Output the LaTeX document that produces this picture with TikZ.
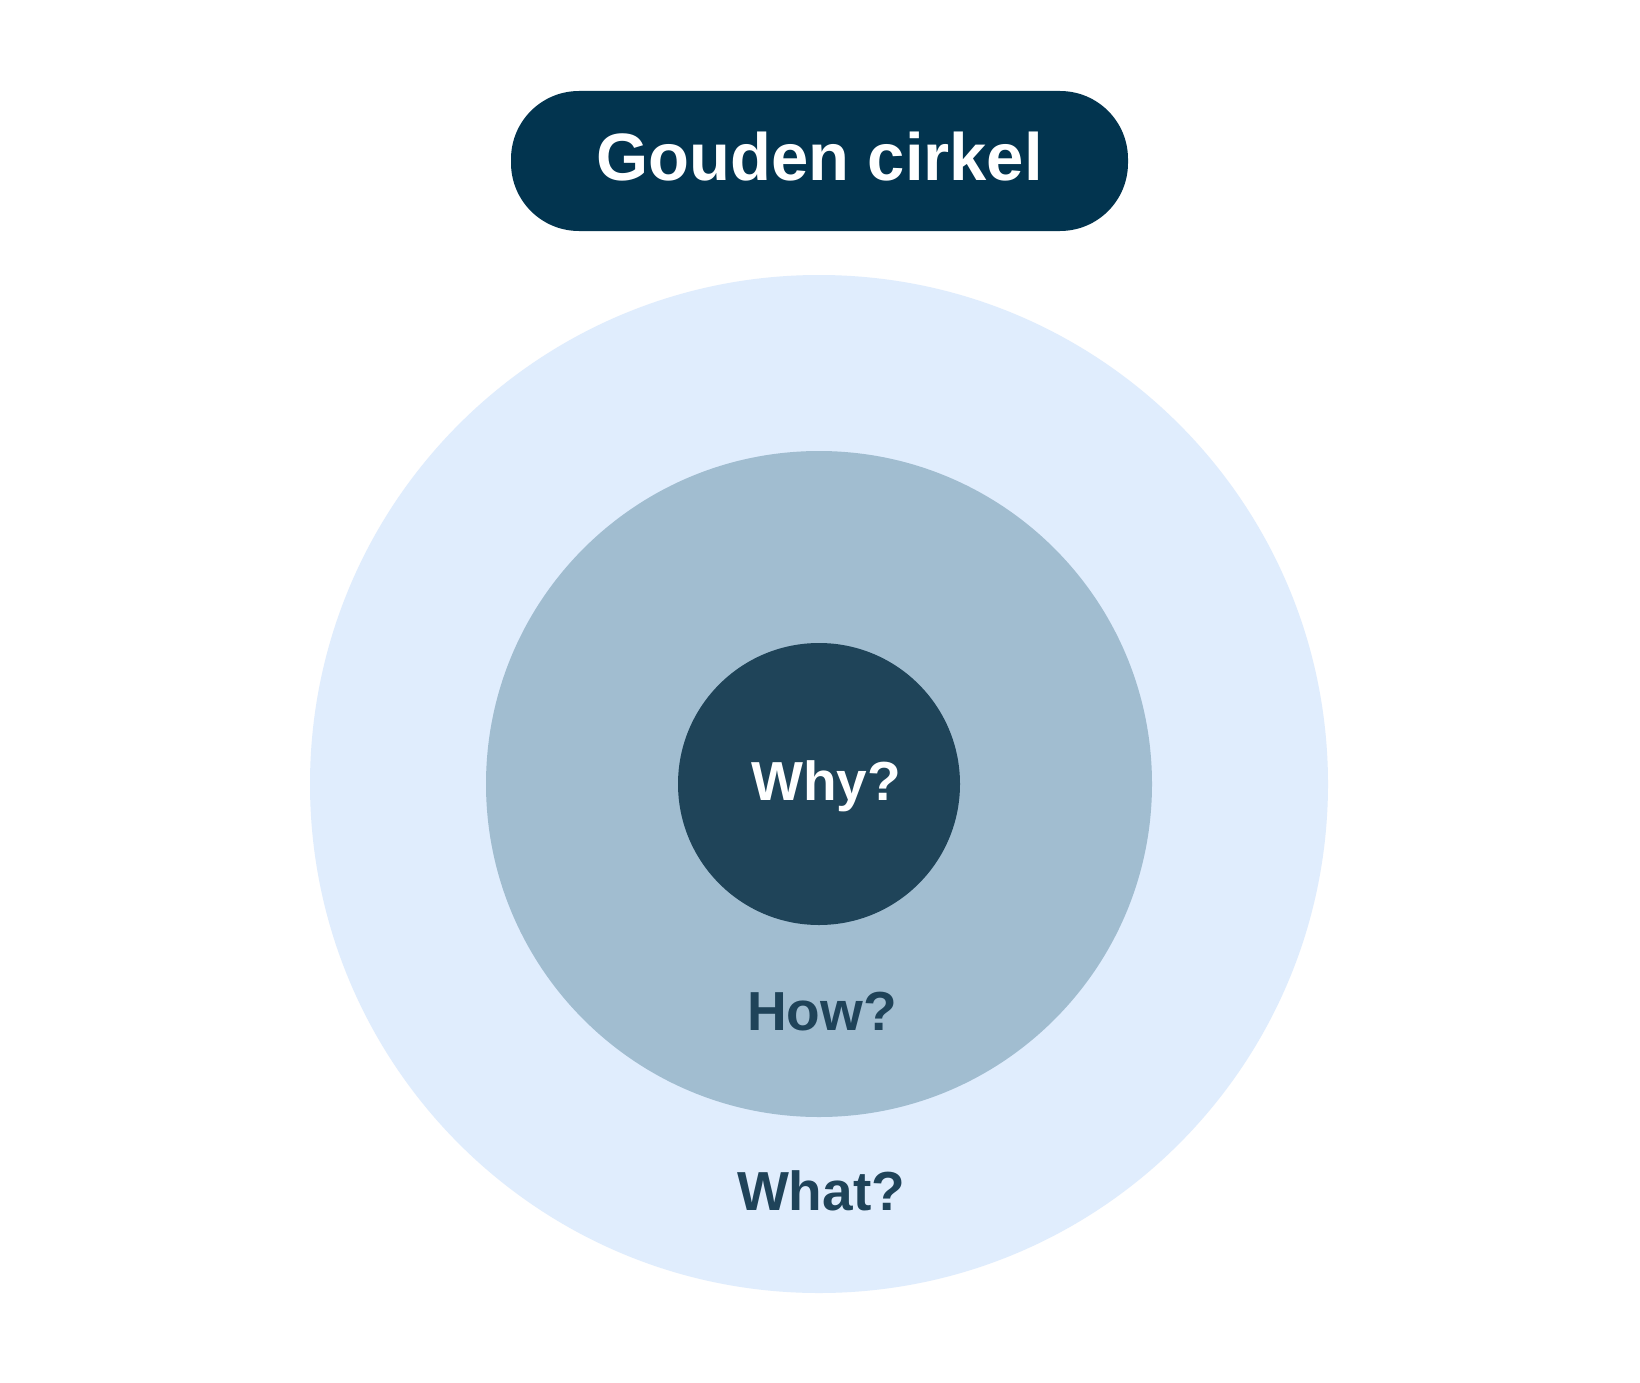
\documentclass[tikz,border=0pt]{standalone}
\usepackage{fontspec}
\setmainfont{Liberation Sans}
\definecolor{pillc}{HTML}{02344F}
\definecolor{innerc}{HTML}{1F4459}
\definecolor{midc}{HTML}{A1BDD0}
\definecolor{outerc}{HTML}{E0EDFD}
\definecolor{textc}{HTML}{1F4359}
\tikzset{
  ring/.style={circle, inner sep=0pt, draw=none},
  lbl/.style={inner sep=0pt, anchor=base, font=\fontsize{55}{58}\selectfont\bfseries},
}
\begin{document}
\begin{tikzpicture}[x=1pt,y=-1pt]
\useasboundingbox (0,0) rectangle (1640,1383);
\fill[white] (0,0) rectangle (1640,1383);
\node[ring, fill=outerc, minimum size=1018] (outer) at (819,784) {};
\node[ring, fill=midc, minimum size=666] (mid) at (819,784) {};
\node[ring, fill=innerc, minimum size=282] (inner) at (819,784) {};
\node[fill=pillc, rounded corners=68, minimum width=617, minimum height=140, inner sep=0pt] (pill) at (819.5,161) {};
\node[inner sep=0pt, anchor=base, text=white, font=\fontsize{67}{70}\selectfont\bfseries] (title) at (819.5,181) {Gouden cirkel};
\node[lbl, text=white] (why) at (826,800) {Why?};
\node[lbl, text=textc] (how) at (822,1030) {How?};
\node[lbl, text=textc] (what) at (821,1210) {What?};
\end{tikzpicture}
\end{document}
